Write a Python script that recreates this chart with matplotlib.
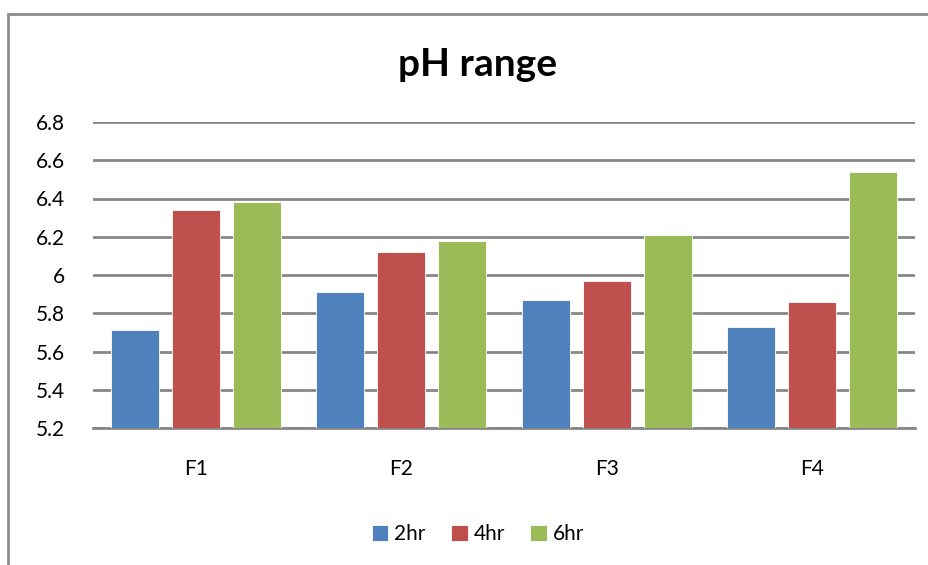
import numpy as np
import matplotlib
matplotlib.use("Agg")
import matplotlib.pyplot as plt
from matplotlib.patches import Rectangle

plt.rcParams['font.family'] = ['Lato', 'DejaVu Sans']

categories = ["F1", "F2", "F3", "F4"]
series = ["2hr", "4hr", "6hr"]
ph_2hr = [5.71, 5.91, 5.87, 5.73]
ph_4hr = [6.34, 6.12, 5.97, 5.86]
ph_6hr = [6.38, 6.18, 6.21, 6.54]
colors = ["#4F81BD", "#C0504D", "#9BBB59"]
yticks = [5.2, 5.4, 5.6, 5.8, 6, 6.2, 6.4, 6.6, 6.8]
ytick_labels = ["5.2", "5.4", "5.6", "5.8", "6", "6.2", "6.4", "6.6", "6.8"]

fig = plt.figure(figsize=(9.29, 5.65), dpi=100)
ax = fig.add_axes([93/929, 1 - 428/565, (915-93)/929, (428-122)/565])

x = np.arange(len(categories))
width = 0.234
step = 0.297
for i, (vals, name) in enumerate(zip([ph_2hr, ph_4hr, ph_6hr], series)):
    ax.bar(x + (i - 1) * step, np.array(vals) - 5.2, width, bottom=5.2,
           color=colors[i], edgecolor="white", linewidth=0.6, label=name, zorder=3)

ax.set_xlim(-0.5, len(categories) - 0.5)
ax.set_ylim(5.2, 6.8)
ax.set_yticks(yticks)
ax.set_yticklabels(ytick_labels, fontsize=15)
ax.set_xticks(x)
ax.set_xticklabels(categories, fontsize=15)
ax.tick_params(length=0, pad=20)
ax.tick_params(axis="x", pad=22)
ax.yaxis.grid(True, color="#878787", linewidth=2, zorder=0)
for s in ["top", "right", "left"]:
    ax.spines[s].set_visible(False)
ax.spines["bottom"].set_color("#878787")
ax.spines["bottom"].set_linewidth(2)

fig.text(478/929, 1 - 64/565, "pH range", fontsize=28, fontweight="bold",
         ha="center", va="center")

fig.legend(loc="center", bbox_to_anchor=(478/929, 1 - 534/565), ncol=3,
           frameon=False, fontsize=15, handlelength=0.8, handleheight=0.8,
           handletextpad=0.3, columnspacing=1.2)

fig.patches.append(Rectangle((8/929, -0.1), 1.2, 1.1 - 14/565,
                             transform=fig.transFigure, fill=False,
                             edgecolor="#8C8C8C", linewidth=2))

fig.savefig("out.png", dpi=100)
